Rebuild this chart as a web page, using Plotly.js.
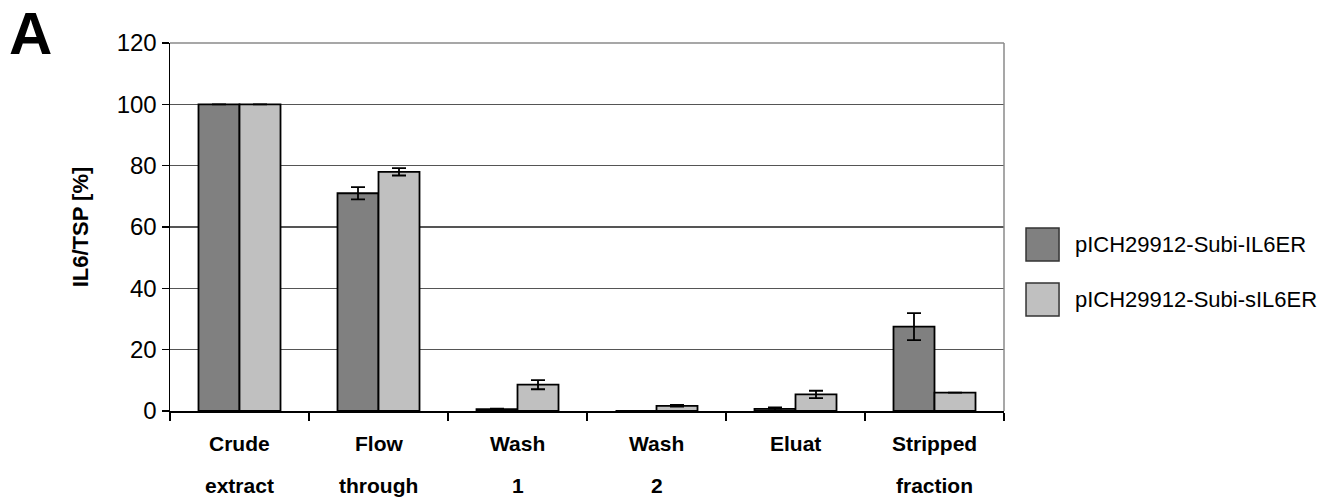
<!DOCTYPE html>
<html>
<head>
<meta charset="utf-8">
<script src="https://cdn.plot.ly/plotly-3.0.1.min.js"></script>
<style>html,body{margin:0;padding:0;background:#fff;}#chart{width:1331px;height:498px;}</style>
</head>
<body>
<div id="chart"></div>
<script>
// ---- data ----
var categories = ["Crude extract", "Flow through", "Wash 1", "Wash 2", "Eluat", "Stripped fraction"];
var labelLine1 = ["Crude", "Flow", "Wash", "Wash", "Eluat", "Stripped"];
var labelLine2 = ["extract", "through", "1", "2", "", "fraction"];
var seriesNames = ["pICH29912-Subi-IL6ER", "pICH29912-Subi-sIL6ER"];
var valuesIL6ER = [100, 71, 0.6, 0, 0.7, 27.5];
var errorsIL6ER = [null, 2.0, 0.2, null, 0.5, 4.4];
var valuesSIL6ER = [100, 78, 8.6, 1.7, 5.4, 6.0];
var errorsSIL6ER = [null, 1.2, 1.5, 0.3, 1.2, null];
var yTicks = [0, 20, 40, 60, 80, 100, 120];

var FONT = "Liberation Sans, Arial, sans-serif";
var colors = ["#808080", "#c0c0c0"];

function barTrace(name, y, err, color) {
  return {
    type: "bar", name: name, x: categories, y: y,
    marker: {color: color, line: {color: "#000", width: 1.8}},
    error_y: {type: "data", array: err, visible: true, color: "#000", thickness: 1.8, width: 7},
    showlegend: false, hoverinfo: "skip"
  };
}

var data = [
  barTrace(seriesNames[0], valuesIL6ER, errorsIL6ER, colors[0]),
  barTrace(seriesNames[1], valuesSIL6ER, errorsSIL6ER, colors[1])
];

var annotations = [];
categories.forEach(function (c, i) {
  annotations.push({x: c, xref: "x", y: 0, yref: "paper", yanchor: "middle", yshift: -32,
    text: labelLine1[i], showarrow: false, font: {family: FONT, size: 21, color: "#000", weight: "bold"}});
  if (labelLine2[i]) annotations.push({x: c, xref: "x", y: 0, yref: "paper", yanchor: "middle", yshift: -74,
    text: labelLine2[i], showarrow: false, font: {family: FONT, size: 21, color: "#000", weight: "bold"}});
});

var shapes = [
  {type: "line", xref: "paper", yref: "paper", x0: 0, x1: 1, y0: 1, y1: 1, line: {color: "#8a8a8a", width: 1.5}},
  {type: "line", xref: "paper", yref: "paper", x0: 1, x1: 1, y0: 0, y1: 1, line: {color: "#8a8a8a", width: 1.5}}
];

// legend (custom, large swatches)
var legY = [[0.497, 0.4076], [0.348, 0.258]];
seriesNames.forEach(function (n, i) {
  shapes.push({type: "rect", xref: "paper", yref: "paper", x0: 1.0264, x1: 1.066, y0: legY[i][1], y1: legY[i][0],
    fillcolor: colors[i], line: {color: "#333", width: 1.5}});
  annotations.push({xref: "paper", yref: "paper", x: 1.0827, y: (legY[i][0] + legY[i][1]) / 2,
    xanchor: "left", yanchor: "middle", text: n, showarrow: false, font: {family: FONT, size: 22, color: "#000"}});
});

annotations.push({xref: "paper", yref: "paper", x: -0.195, y: 1.122, xanchor: "left", yanchor: "top",
  text: "A", showarrow: false, font: {family: FONT, size: 60, color: "#000", weight: "bold"}});

var layout = {
  width: 1331, height: 498,
  margin: {l: 170, r: 327, t: 43, b: 87},
  paper_bgcolor: "#fff", plot_bgcolor: "#fff",
  barmode: "group", bargap: 0.41, bargroupgap: 0,
  font: {family: FONT, color: "#000"},
  xaxis: {
    type: "category", showticklabels: false, showgrid: false,
    showline: true, linecolor: "#000", linewidth: 1.5,
    ticks: "outside", tickson: "boundaries", ticklen: 8, tickcolor: "#000", tickwidth: 1.3
  },
  yaxis: {
    range: [0, 120], tickvals: yTicks, ticktext: yTicks.map(String),
    showline: true, linecolor: "#000", linewidth: 1.5,
    ticks: "outside", ticklen: 7, tickcolor: "#000", tickwidth: 1.3,
    showgrid: true, gridcolor: "#555", gridwidth: 1.3, zeroline: false,
    tickfont: {family: FONT, size: 24, color: "#000"},
    title: {text: "IL6/TSP [%]", standoff: 22, font: {family: FONT, size: 22, color: "#000", weight: "bold"}}
  },
  annotations: annotations,
  shapes: shapes
};

Plotly.newPlot("chart", data, layout, {displayModeBar: false, staticPlot: true});
</script>
</body>
</html>
